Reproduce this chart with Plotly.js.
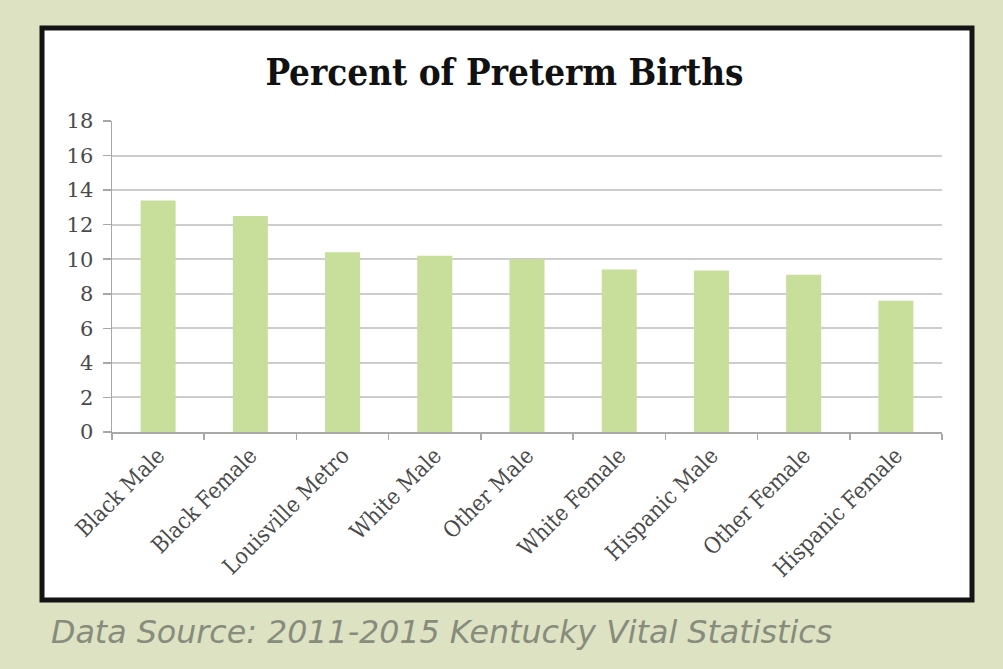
<!DOCTYPE html>
<html>
<head>
<meta charset="utf-8">
<script src="https://cdn.plot.ly/plotly-3.0.1.min.js"></script>
<style>html,body{margin:0;padding:0;background:#dde2c2;}#chart{width:1003px;height:669px;}</style>
</head>
<body>
<div id="chart"></div>
<script>
const categories = ["Black Male","Black Female","Louisville Metro","White Male","Other Male","White Female","Hispanic Male","Other Female","Hispanic Female"];
const preterm = [13.4, 12.5, 10.4, 10.2, 10.0, 9.4, 9.35, 9.1, 7.6];
const yTicks = [0,2,4,6,8,10,12,14,16,18];
const titleText = "Percent of Preterm Births";
const sourceText = "Data Source: 2011-2015 Kentucky Vital Statistics";

const L = 112, R = 61, T = 121, B = 237, W = 1003, H = 669;
const pw = W - L - R, ph = H - T - B;
const px = v => (v - L) / pw;
const py = v => (H - B - v) / ph;

const trace = {
  type: "bar",
  x: categories,
  y: preterm,
  marker: {color: "#c8df9c", line: {width: 0}},
  hoverinfo: "x+y"
};

const layout = {
  width: W, height: H,
  margin: {l: L, r: R, t: T, b: B},
  paper_bgcolor: "#dde2c2",
  plot_bgcolor: "rgba(0,0,0,0)",
  showlegend: false,
  bargap: 0.62,
  title: {
    text: titleText,
    font: {family: "DejaVu Serif Condensed", size: 36.5, color: "#111", weight: "bold"},
    x: 0.503, xref: "container", xanchor: "center",
    y: 1 - 72/669, yref: "container", yanchor: "middle"
  },
  xaxis: {
    type: "category",
    tickangle: -45,
    tickfont: {family: "DejaVu Serif Condensed", size: 22.5, color: "#4a4a4a"},
    showgrid: false,
    showline: true, linecolor: "#a8a8a8", linewidth: 1.5,
    ticks: "outside", tickson: "boundaries", ticklen: 6, tickcolor: "#a8a8a8", tickwidth: 1.5,
    zeroline: false
  },
  yaxis: {
    range: [0, 18],
    tickvals: yTicks,
    ticktext: yTicks.map(String),
    tickfont: {family: "DejaVu Serif", size: 21, color: "#4a4a4a"},
    ticklabelstandoff: 5,
    showgrid: true, gridcolor: "#cdcdcd", gridwidth: 2,
    showline: true, linecolor: "#a8a8a8", linewidth: 1.5,
    ticks: "outside", ticklen: 8, tickcolor: "#a8a8a8", tickwidth: 1.5,
    zeroline: false
  },
  shapes: [{
    type: "rect", xref: "paper", yref: "paper", layer: "below",
    x0: px(42), x1: px(972), y0: py(600), y1: py(28),
    fillcolor: "#ffffff", line: {color: "#141414", width: 5}
  }],
  annotations: [{
    text: sourceText, showarrow: false,
    xref: "paper", yref: "paper",
    x: px(49), xanchor: "left", y: py(632), yanchor: "middle",
    font: {family: "DejaVu Sans", size: 31.7, color: "#878c7c", style: "italic"}
  }]
};

Plotly.newPlot("chart", [trace], layout, {displayModeBar: false, staticPlot: true});
</script>
</body>
</html>
